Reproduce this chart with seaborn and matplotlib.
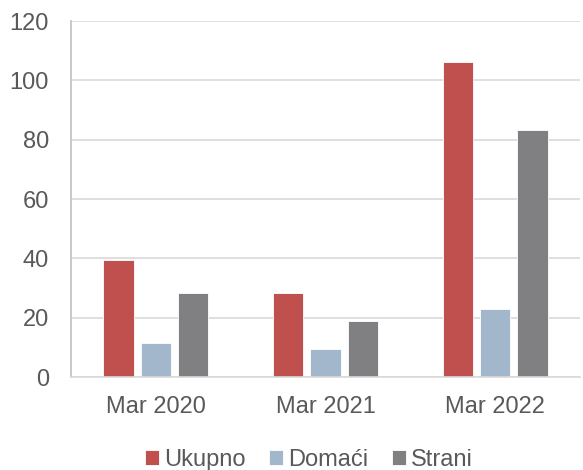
import matplotlib
matplotlib.use("Agg")
import matplotlib.pyplot as plt
import seaborn as sns
import pandas as pd

categories = ["Mar 2020", "Mar 2021", "Mar 2022"]
series_names = ["Ukupno", "Domaći", "Strani"]
ukupno = [39.5, 28.2, 106.2]
domaci = [11.6, 9.4, 23.0]
strani = [28.3, 18.8, 83.1]
y_ticks = [0, 20, 40, 60, 80, 100, 120]
colors = ["#C0504D", "#A2B6CC", "#808083"]

rows = []
for name, vals in zip(series_names, [ukupno, domaci, strani]):
    for c, v in zip(categories, vals):
        rows.append({"Period": c, "Serija": name, "Vrijednost": v})
df = pd.DataFrame(rows)

sns.set_style("white")
plt.rcParams['font.family'] = ['Liberation Sans', 'DejaVu Sans']

fig = plt.figure(figsize=(5.83, 4.70), dpi=100)
ax = fig.add_axes([71/583, 1 - 377/470, (580-71)/583, (377-21)/470])

sns.barplot(data=df, x="Period", y="Vrijednost", hue="Serija",
            hue_order=series_names, order=categories, palette=colors,
            width=0.66, gap=0.18, ax=ax, edgecolor="white", linewidth=0.6,
            saturation=1, legend=True)

ax.set_ylim(0, 120)
ax.set_yticks(y_ticks)
ax.set_xlim(-0.5, 2.5)
ax.yaxis.grid(True, color="#D9D9D9", linewidth=1.2)
ax.set_axisbelow(True)
ax.set_xlabel("")
ax.set_ylabel("")
for s in ["top", "right"]:
    ax.spines[s].set_visible(False)
ax.spines["left"].set_color("#BFBFBF")
ax.spines["bottom"].set_color("#D9D9D9")
ax.spines["left"].set_linewidth(1.2)
ax.spines["bottom"].set_linewidth(1.2)
ax.tick_params(axis="both", length=0, labelsize=17, colors="#595959")
ax.tick_params(axis="y", pad=16)
ax.tick_params(axis="x", pad=14)

handles, labels = ax.get_legend_handles_labels()
ax.get_legend().remove()
fig.legend(handles, labels, loc="center", bbox_to_anchor=(0.53, 1 - 460/470),
           ncol=3, frameon=False, fontsize=17, handlelength=0.6, handleheight=0.6,
           handletextpad=0.2, columnspacing=1.0, labelcolor="#595959")

fig.savefig("out.png", dpi=100)
